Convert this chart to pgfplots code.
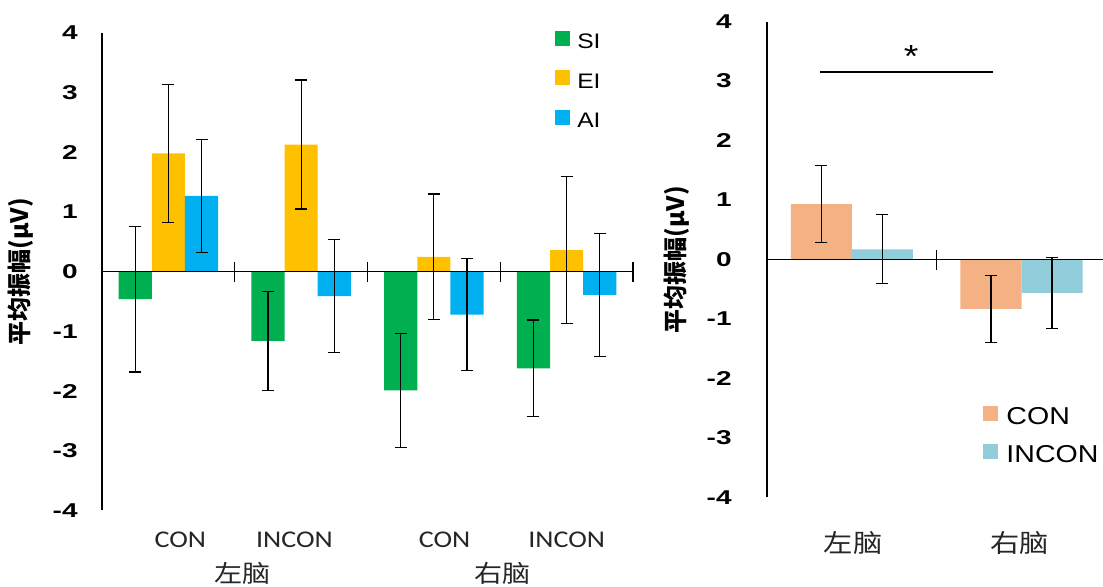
\documentclass[border=0pt]{standalone}
\usepackage{pgfplots}
\pgfplotsset{compat=1.18}
\usepackage{fontspec}
\setmainfont{Liberation Sans}[FakeStretch=1.17]
\newfontfamily\tickfont{Liberation Sans}[FakeStretch=1.4]
\newfontfamily\cjk{Noto Sans CJK SC}
\newfontfamily\cjkwide{Noto Sans CJK SC}[FakeStretch=1.17]
\newfontfamily\calib{Carlito}[FakeStretch=1.17]

\definecolor{siGreen}{HTML}{00B050}
\definecolor{eiYellow}{HTML}{FFC000}
\definecolor{aiBlue}{HTML}{00B0F0}
\definecolor{conPeach}{HTML}{F4B183}
\definecolor{inconBlue}{HTML}{92CDDC}

\pgfplotsset{
  panel/.style={
    scale only axis, clip=false,
    axis x line=none, axis y line=left,
    axis line style={-, line width=0.6pt},
    ymin=-4, ymax=4,
    ytick={-4,-3,-2,-1,0,1,2,3,4},
    yticklabels={-4,-3,-2,-1,0,1,2,3,4},
    major tick length=0pt,
    yticklabel style={font=\tickfont\bfseries\fontsize{10}{12}\selectfont, anchor=east, inner sep=0pt},
    ybar,
    ylabel={\cjk\bfseries 平均振幅(μV)},
    ylabel style={font=\fontsize{12}{14}\selectfont, anchor=center},
    legend cell align=left,
  },
  errs/.style={error bars/.cd, y dir=both, y explicit,
    error bar style={black, line width=0.6pt},
    error mark options={rotate=90, black, line width=0.6pt, mark size=3pt}},
  ybar legend/.style={legend image code/.code={\fill[##1, draw=none] (0pt,-2.25pt) rectangle (7.5pt,5.25pt);}},
}

\begin{document}
\begin{tikzpicture}
\useasboundingbox (0,0) rectangle (551.5pt,293.5pt);

% three stimulus types in each hemisphere / condition
\begin{axis}[panel,
  at={(51pt,38.25pt)}, anchor=south west,
  width=265.5pt, height=238.8pt,
  xmin=0, xmax=4,
  bar width=0.25,
  ylabel style={at={(axis description cs:-0.1525,0.5)}},
  yticklabel style={xshift=-12pt},
  legend style={at={(0.853,1.005)}, anchor=north west, draw=none, fill=none,
    inner sep=0pt, row sep=10.75pt, font=\fontsize{10.5}{12}\selectfont,
    nodes={inner sep=0pt, text height=7.5pt, text depth=0pt},
    /tikz/every odd column/.append style={column sep=3.5pt}},
]
\addplot[fill=siGreen, draw=none, bar shift=-0.25, errs] coordinates {
  (0.5,-0.46) +- (0,1.22)
  (1.5,-1.16) +- (0,0.83)
  (2.5,-1.99) +- (0,0.95)
  (3.5,-1.62) +- (0,0.81)
};
\addplot[fill=eiYellow, draw=none, bar shift=0, errs] coordinates {
  (0.5,1.98) +- (0,1.16)
  (1.5,2.13) +- (0,1.08)
  (2.5,0.25) +- (0,1.05)
  (3.5,0.36) +- (0,1.23)
};
\addplot[fill=aiBlue, draw=none, bar shift=0.25, errs] coordinates {
  (0.5,1.27) +- (0,0.95)
  (1.5,-0.41) +- (0,0.95)
  (2.5,-0.72) +- (0,0.94)
  (3.5,-0.39) +- (0,1.03)
};
\legend{SI,EI,AI}
% zero line and category separators
\draw[line width=0.6pt] (axis cs:0,0) -- (axis cs:4,0);
\draw[line width=0.6pt] ([yshift=-5pt]axis cs:1,0) -- ([yshift=5pt]axis cs:1,0);
\draw[line width=0.6pt] ([yshift=-5pt]axis cs:2,0) -- ([yshift=5pt]axis cs:2,0);
\draw[line width=0.6pt] ([yshift=-5pt]axis cs:3,0) -- ([yshift=5pt]axis cs:3,0);
\draw[line width=0.6pt] ([yshift=-5pt]axis cs:4,0) -- ([yshift=5pt]axis cs:4,0);
% two-level category labels
\begin{scope}[every node/.style={font=\calib\fontsize{12}{14}\selectfont, text=black!85}]
\node at (axis cs:0.59,-4.49) {CON};
\node at (axis cs:1.45,-4.49) {INCON};
\node at (axis cs:2.58,-4.49) {CON};
\node at (axis cs:3.50,-4.49) {INCON};
\end{scope}
\begin{scope}[every node/.style={font=\cjkwide\fontsize{12}{14}\selectfont, text=black!85}]
\node at (axis cs:1.06,-5.05) {左脑};
\node at (axis cs:3.02,-5.05) {右脑};
\end{scope}
\end{axis}

% condition effect per hemisphere
\begin{axis}[panel,
  at={(383.5pt,44.75pt)}, anchor=south west,
  width=168pt, height=238pt,
  xmin=0, xmax=1.98,
  bar width=0.36,
  ylabel style={at={(axis description cs:-0.268,0.5)}},
  yticklabel style={xshift=-17.5pt},
  ybar legend/.style={legend image code/.code={\fill[##1, draw=none] (0pt,-2.5pt) rectangle (8.5pt,6pt);}},
  legend style={at={(0.643,0.194)}, anchor=north west, draw=none, fill=none,
    inner sep=0pt, row sep=9.5pt, font=\fontsize{12.2}{14}\selectfont,
    nodes={inner sep=0pt, text height=8.6pt, text depth=0pt},
    /tikz/every odd column/.append style={column sep=4pt}},
]
\addplot[fill=conPeach, draw=none, bar shift=-0.18, errs] coordinates {
  (0.5,0.93) +- (0,0.65)
  (1.5,-0.83) +- (0,0.56)
};
\addplot[fill=inconBlue, draw=none, bar shift=0.18, errs] coordinates {
  (0.5,0.17) +- (0,0.58)
  (1.5,-0.56) +- (0,0.60)
};
\legend{CON,INCON}
\draw[line width=0.6pt] (axis cs:0,0) -- (axis cs:1.98,0);
\draw[line width=0.6pt] ([yshift=-5pt]axis cs:1,0) -- ([yshift=5pt]axis cs:1,0);
% significance bracket between the two CON bars
\draw[line width=1pt] (axis cs:0.31,3.15) -- (axis cs:1.33,3.15);
\node[font=\fontsize{16}{18}\selectfont] at (axis cs:0.85,3.42) {*};
\begin{scope}[every node/.style={font=\cjkwide\fontsize{12.5}{14}\selectfont, text=black!85}]
\node at (axis cs:0.507,-4.76) {左脑};
\node at (axis cs:1.49,-4.76) {右脑};
\end{scope}
\end{axis}
\end{tikzpicture}
\end{document}
